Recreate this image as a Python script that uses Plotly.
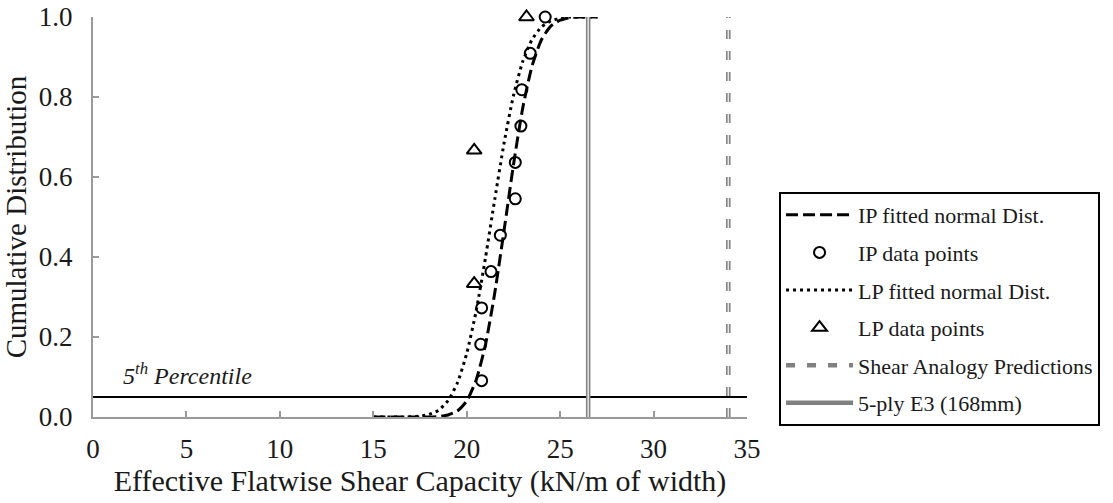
import plotly.graph_objects as go

# ---- data ----
ip_fit_x = [15.0, 17.0, 18.0, 18.5, 19.0, 19.5, 20.0, 20.5, 21.0, 21.5, 22.0, 22.5, 23.0, 23.5, 24.0, 24.5, 25.0, 25.5, 26.0, 27.0]
ip_fit_y = [0.0, 0.0, 0.0003, 0.0013, 0.005, 0.015, 0.04, 0.092, 0.18, 0.31, 0.467, 0.63, 0.773, 0.878, 0.943, 0.977, 0.992, 0.998, 1.0, 1.0]

lp_fit_x = [15.0, 16.0, 17.0, 17.5, 18.0, 18.5, 19.0, 19.5, 20.0, 20.5, 21.0, 21.5, 22.0, 22.5, 23.0, 23.5, 24.0, 24.5, 25.0, 25.5, 27.0]
lp_fit_y = [0.0, 0.0, 0.0006, 0.002, 0.0066, 0.017, 0.041, 0.085, 0.159, 0.264, 0.397, 0.544, 0.685, 0.803, 0.889, 0.944, 0.975, 0.99, 0.997, 1.0, 1.0]

ip_pts_x = [20.8, 20.75, 20.8, 21.3, 21.8, 22.6, 22.6, 22.9, 22.95, 23.4, 24.2]
ip_pts_y = [0.0909, 0.1818, 0.2727, 0.3636, 0.4545, 0.5455, 0.6364, 0.7273, 0.8182, 0.9091, 1.0]

lp_pts_x = [20.4, 20.4, 23.2]
lp_pts_y = [0.3333, 0.6667, 1.0]

shear_analogy_x = [34.0, 34.0]
shear_analogy_y = [0.0, 1.0]

e3_x = [26.5, 26.5]
e3_y = [0.0, 1.0]

pct5_x = [0.0, 35.0]
pct5_y = [0.05, 0.05]

x_ticks = [0, 5, 10, 15, 20, 25, 30, 35]
y_ticks = [0.0, 0.2, 0.4, 0.6, 0.8, 1.0]

FONT = "Liberation Serif"
TXT = "#1a1a1a"
AX = "#9a9a9a"

fig = go.Figure()

fig.add_trace(go.Scatter(
    x=pct5_x, y=pct5_y, mode="lines", showlegend=False, legendgroup="z",
    line=dict(color="black", width=2), hoverinfo="skip"))

fig.add_trace(go.Scatter(
    x=ip_fit_x, y=ip_fit_y, mode="lines", name="IP fitted normal Dist.",
    legendgroup="a", line=dict(color="black", width=3, dash="12px,5px", shape="spline", smoothing=0.6)))

fig.add_trace(go.Scatter(
    x=ip_pts_x, y=ip_pts_y, mode="markers", name="IP data points", legendgroup="b",
    cliponaxis=False,
    marker=dict(symbol="circle-open", size=11, color="black", line=dict(width=2, color="black"))))

fig.add_trace(go.Scatter(
    x=lp_fit_x, y=lp_fit_y, mode="lines", name="LP fitted normal Dist.", legendgroup="c",
    line=dict(color="black", width=3, dash="3px,4px", shape="spline", smoothing=0.6)))

fig.add_trace(go.Scatter(
    x=lp_pts_x, y=lp_pts_y, mode="markers", name="LP data points", legendgroup="d",
    cliponaxis=False,
    marker=dict(symbol="triangle-up-open", size=13, color="black", line=dict(width=2, color="black"))))

fig.add_trace(go.Scatter(
    x=shear_analogy_x, y=shear_analogy_y, mode="lines", name="Shear Analogy Predictions", legendgroup="e",
    line=dict(color="#808080", width=4.5, dash="9px,12px")))
fig.add_trace(go.Scatter(
    x=shear_analogy_x, y=shear_analogy_y, mode="lines", showlegend=False, legendgroup="e",
    line=dict(color="#e6e6e6", width=1.5, dash="9px,12px"), hoverinfo="skip"))

fig.add_trace(go.Scatter(
    x=e3_x, y=e3_y, mode="lines", name="5-ply E3 (168mm)", legendgroup="f",
    line=dict(color="#808080", width=4.5)))
fig.add_trace(go.Scatter(
    x=e3_x, y=e3_y, mode="lines", showlegend=False, legendgroup="f",
    line=dict(color="#e6e6e6", width=1.5), hoverinfo="skip"))

fig.add_annotation(
    x=1.5, y=0.107, xref="x", yref="y", xanchor="left", yanchor="middle",
    text="<i>5<sup>th</sup> Percentile</i>", showarrow=False,
    font=dict(family=FONT, size=24, color=TXT))

fig.update_layout(
    width=1113, height=503,
    margin=dict(l=93, r=366, t=17, b=86, autoexpand=False),
    paper_bgcolor="white", plot_bgcolor="white",
    font=dict(family=FONT, color=TXT),
    legend=dict(
        x=1.049, y=0.5625, xanchor="left", yanchor="top",
        bordercolor="black", borderwidth=2, bgcolor="white",
        font=dict(family=FONT, size=22, color=TXT),
        tracegroupgap=6, itemwidth=67,
        traceorder="grouped"),
    xaxis=dict(
        range=[0, 35], tickvals=x_ticks, ticktext=[str(v) for v in x_ticks],
        automargin=False,
        showgrid=False, zeroline=False, showline=True, linecolor=AX, linewidth=2,
        ticks="inside", ticklen=6, tickcolor=AX, tickwidth=1.5,
        tickfont=dict(family=FONT, size=27, color=TXT), ticklabelstandoff=7,
        title=dict(text="Effective Flatwise Shear Capacity (kN/m of width)",
                   font=dict(family=FONT, size=30, color=TXT), standoff=6)),
    yaxis=dict(
        range=[0, 1], tickvals=y_ticks, ticktext=[f"{v:.1f}" for v in y_ticks],
        automargin=False,
        showgrid=False, zeroline=False, showline=True, linecolor=AX, linewidth=2,
        ticks="inside", ticklen=6, tickcolor=AX, tickwidth=1.5,
        tickfont=dict(family=FONT, size=27, color=TXT), ticklabelstandoff=13,
        title=dict(text="Cumulative Distribution",
                   font=dict(family=FONT, size=29, color=TXT), standoff=8)),
)

fig.write_html("out.html")
